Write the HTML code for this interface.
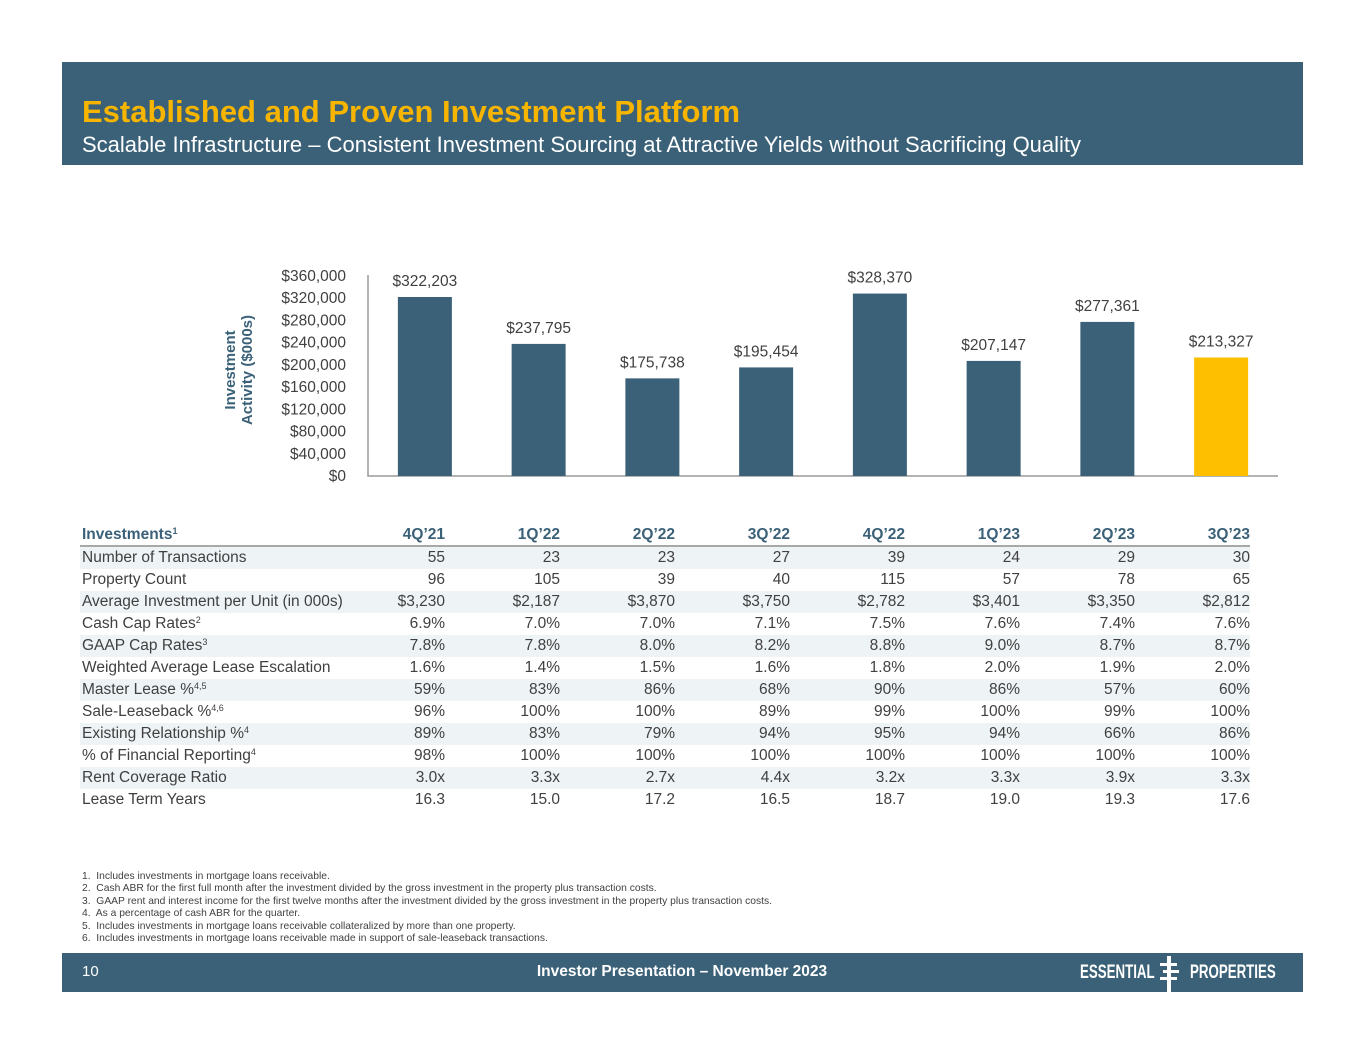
<!DOCTYPE html>
<html><head><meta charset="utf-8">
<style>
body{margin:0;width:1365px;height:1055px;background:#fff;font-family:"Liberation Sans",Arial,sans-serif;position:relative;overflow:hidden}
.abs{position:absolute}
#header{left:62px;top:62px;width:1241px;height:103px;background:#3b6178}
#title{left:20px;top:32px;color:#f7b500;font-size:31px;font-weight:bold;white-space:nowrap}
#subtitle{left:20px;top:70px;color:#fff;font-size:22px;white-space:nowrap}
table{position:absolute;left:80px;top:524px;border-collapse:collapse;font-size:15.5px;color:#404040;table-layout:fixed;width:1170px}
td,th{height:22px;padding:0;white-space:nowrap;text-align:right;width:115px;vertical-align:middle;overflow:visible}
td:first-child,th:first-child{text-align:left;width:248px;padding-left:2px}
th{color:#3b6178;font-weight:bold;height:21px;border-bottom:2px solid #a8a8a8}
tr.s td{background:#eef3f6}
sup{font-size:9px;vertical-align:5px;line-height:0}
#notes{left:82px;top:871px;font-size:10.3px;color:#404040;line-height:12.4px;white-space:nowrap}
#footer{left:62px;top:953px;width:1241px;height:39px;background:#3b6178;color:#fff}
.logo{top:9px;font-size:19px;font-weight:bold;white-space:nowrap;transform-origin:0 0;transform:scaleX(0.70)}
</style></head><body>
<div id="header" class="abs">
<div id="title" class="abs">Established and Proven Investment Platform</div>
<div id="subtitle" class="abs">Scalable Infrastructure – Consistent Investment Sourcing at Attractive Yields without Sacrificing Quality</div>
</div>
<svg id="chart" class="abs" style="left:0;top:0" width="1365" height="520"></svg>
<table>
<colgroup><col style="width:250px"><col style="width:115px"><col style="width:115px"><col style="width:115px"><col style="width:115px"><col style="width:115px"><col style="width:115px"><col style="width:115px"><col style="width:115px"></colgroup>
<tr><th>Investments<sup>1</sup></th><th>4Q’21</th><th>1Q’22</th><th>2Q’22</th><th>3Q’22</th><th>4Q’22</th><th>1Q’23</th><th>2Q’23</th><th>3Q’23</th></tr>
<tr class="s"><td>Number of Transactions</td><td>55</td><td>23</td><td>23</td><td>27</td><td>39</td><td>24</td><td>29</td><td>30</td></tr>
<tr><td>Property Count</td><td>96</td><td>105</td><td>39</td><td>40</td><td>115</td><td>57</td><td>78</td><td>65</td></tr>
<tr class="s"><td>Average Investment per Unit (in 000s)</td><td>$3,230</td><td>$2,187</td><td>$3,870</td><td>$3,750</td><td>$2,782</td><td>$3,401</td><td>$3,350</td><td>$2,812</td></tr>
<tr><td>Cash Cap Rates<sup>2</sup></td><td>6.9%</td><td>7.0%</td><td>7.0%</td><td>7.1%</td><td>7.5%</td><td>7.6%</td><td>7.4%</td><td>7.6%</td></tr>
<tr class="s"><td>GAAP Cap Rates<sup>3</sup></td><td>7.8%</td><td>7.8%</td><td>8.0%</td><td>8.2%</td><td>8.8%</td><td>9.0%</td><td>8.7%</td><td>8.7%</td></tr>
<tr><td>Weighted Average Lease Escalation</td><td>1.6%</td><td>1.4%</td><td>1.5%</td><td>1.6%</td><td>1.8%</td><td>2.0%</td><td>1.9%</td><td>2.0%</td></tr>
<tr class="s"><td>Master Lease %<sup>4,5</sup></td><td>59%</td><td>83%</td><td>86%</td><td>68%</td><td>90%</td><td>86%</td><td>57%</td><td>60%</td></tr>
<tr><td>Sale-Leaseback %<sup>4,6</sup></td><td>96%</td><td>100%</td><td>100%</td><td>89%</td><td>99%</td><td>100%</td><td>99%</td><td>100%</td></tr>
<tr class="s"><td>Existing Relationship %<sup>4</sup></td><td>89%</td><td>83%</td><td>79%</td><td>94%</td><td>95%</td><td>94%</td><td>66%</td><td>86%</td></tr>
<tr><td>% of Financial Reporting<sup>4</sup></td><td>98%</td><td>100%</td><td>100%</td><td>100%</td><td>100%</td><td>100%</td><td>100%</td><td>100%</td></tr>
<tr class="s"><td>Rent Coverage Ratio</td><td>3.0x</td><td>3.3x</td><td>2.7x</td><td>4.4x</td><td>3.2x</td><td>3.3x</td><td>3.9x</td><td>3.3x</td></tr>
<tr><td>Lease Term Years</td><td>16.3</td><td>15.0</td><td>17.2</td><td>16.5</td><td>18.7</td><td>19.0</td><td>19.3</td><td>17.6</td></tr>
</table>
<div id="notes" class="abs">
1.&nbsp; Includes investments in mortgage loans receivable.<br>
2.&nbsp; Cash ABR for the first full month after the investment divided by the gross investment in the property plus transaction costs.<br>
3.&nbsp; GAAP rent and interest income for the first twelve months after the investment divided by the gross investment in the property plus transaction costs.<br>
4.&nbsp; As a percentage of cash ABR for the quarter.<br>
5.&nbsp; Includes investments in mortgage loans receivable collateralized by more than one property.<br>
6.&nbsp; Includes investments in mortgage loans receivable made in support of sale-leaseback transactions.
</div>
<div id="footer" class="abs">
<div class="abs" style="left:20px;top:10px;font-size:15px">10</div>
<div class="abs" style="left:0;width:1240px;top:10px;font-size:15.5px;font-weight:bold;text-align:center">Investor Presentation – November 2023</div>
<div class="abs logo" style="left:1018px">ESSENTIAL</div>
<svg class="abs" style="left:1095px;top:3px" width="24" height="36"><rect x="10" y="0" width="4" height="36" fill="#fff"/><rect x="3" y="7" width="17" height="3" fill="#fff"/><rect x="6" y="14" width="16" height="3" fill="#fff"/><rect x="3" y="21" width="17" height="3" fill="#fff"/></svg>
<div class="abs logo" style="left:1128px">PROPERTIES</div>
</div>
<script>
const categories=["4Q'21","1Q'22","2Q'22","3Q'22","4Q'22","1Q'23","2Q'23","3Q'23"];
const values=[322203,237795,175738,195454,328370,207147,277361,213327];
const labels=["$322,203","$237,795","$175,738","$195,454","$328,370","$207,147","$277,361","$213,327"];
const ticks=[0,40000,80000,120000,160000,200000,240000,280000,320000,360000];
const ns="http://www.w3.org/2000/svg";
const svg=document.getElementById('chart');
const x0=368,x1=1278,y0=476,yTop=276,yMax=360000;
const y=v=>y0-(v/yMax)*(y0-yTop);
const slot=(x1-x0)/categories.length;
const xc=i=>x0+slot*(i+0.5);
function mk(t,a){const e=document.createElementNS(ns,t);for(const k in a)e.setAttribute(k,a[k]);svg.appendChild(e);return e;}
ticks.forEach(t=>{
 const e=mk('text',{x:346,y:y(t)+5,'text-anchor':'end','font-size':15.5,fill:'#404040'});
 
 
 e.textContent='$'+t.toLocaleString('en-US');
});
const ax=mk('path',{d:`M${x0} ${yTop-1}V${y0}H${x1}`,stroke:'#9a9a9a','stroke-width':1.5,fill:'none'});


values.forEach((v,i)=>{
 const r=mk('rect',{x:xc(i)-27,y:y(v),width:54,height:y0-y(v),fill:i===values.length-1?'#fdbf00':'#3b6178'});
 
 
 const t=mk('text',{x:xc(i),y:y(v)-11,'text-anchor':'middle','font-size':15.5,fill:'#404040'});
 
 
 t.textContent=labels[i];
});
const g=mk('text',{transform:'translate(238,370) rotate(-90)','text-anchor':'middle','font-size':15,'font-weight':'bold',fill:'#3b6178'});


const t1=document.createElementNS(ns,'tspan');t1.setAttribute('x',0);t1.setAttribute('dy',-3);t1.textContent='Investment';g.appendChild(t1);
const t2=document.createElementNS(ns,'tspan');t2.setAttribute('x',0);t2.setAttribute('dy',17);t2.textContent='Activity ($000s)';g.appendChild(t2);
</script>
</body></html>
